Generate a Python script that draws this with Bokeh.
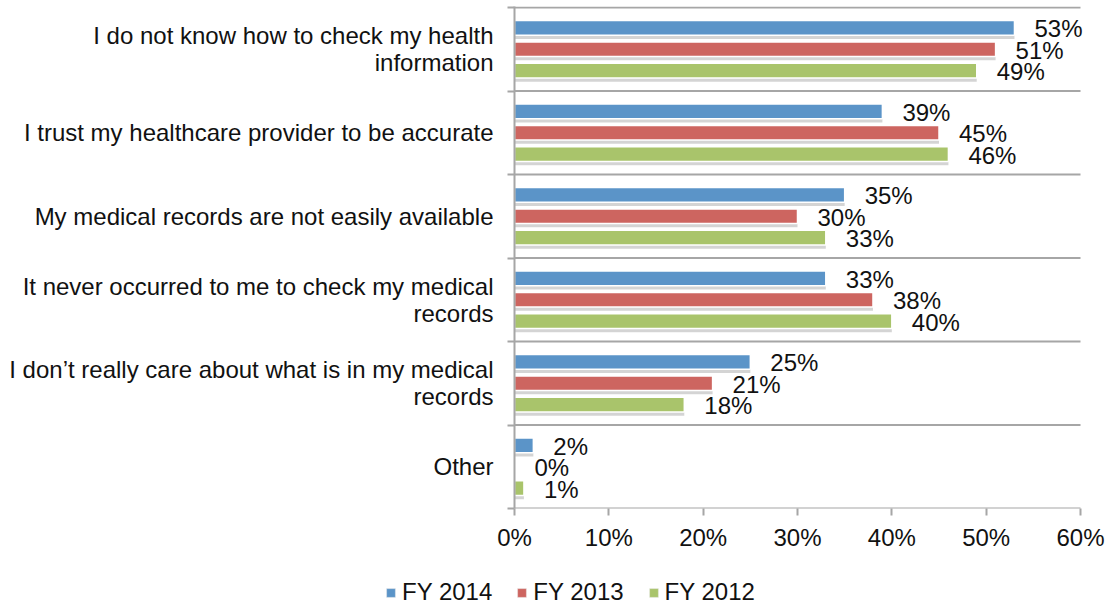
from bokeh.plotting import figure
from bokeh.layouts import column, row
from bokeh.models import (ColumnDataSource, FixedTicker, PrintfTickFormatter, Legend,
                          LegendItem, Range1d, LabelSet)
from bokeh.transform import dodge
from bokeh.core.properties import value
from bokeh.embed import file_html
from bokeh.resources import INLINE

categories = [
    "I do not know how to check my health\ninformation",
    "I trust my healthcare provider to be accurate",
    "My medical records are not easily available",
    "It never occurred to me to check my medical\nrecords",
    "I don\u2019t really care about what is in my medical\nrecords",
    "Other",
]
series_names = ["FY 2014", "FY 2013", "FY 2012"]
fy2014 = [53, 39, 35, 33, 25, 2]
fy2013 = [51, 45, 30, 38, 21, 0]
fy2012 = [49, 46, 33, 40, 18, 1]
x_ticks = [0, 10, 20, 30, 40, 50, 60]

colors = ["#5B94C8", "#CD6560", "#A9C46B"]
offsets = [0.256, 0.0, -0.256]
FONT = "Liberation Sans"
FS = "24px"
GRAY = "#A6A6A6"
TXT = "#111111"

n = len(categories)
centers = [n - 0.5 - i for i in range(n)]
seps = list(range(n + 1))

# frame: 0..60% spans 566px; extra room on the right for value labels
plot_px = 566
frame_w = 586
x_end = x_ticks[-1] * frame_w / plot_px

p = figure(frame_width=frame_w, frame_height=502,
           min_border_left=514, min_border_right=10, min_border_top=6, min_border_bottom=60,
           x_range=Range1d(0, x_end), y_range=Range1d(0, n + 0.012),
           output_backend="svg", toolbar_location=None)
p.outline_line_color = None
p.background_fill_color = "white"
p.border_fill_color = "white"
p.xgrid.visible = False
p.ygrid.visible = False

# category separators (from 0% to 60%)
p.segment(x0=[x_ticks[0]] * len(seps), x1=[x_ticks[-1]] * len(seps), y0=seps, y1=seps,
          line_color=GRAY, line_width=2)

for vals, col, off, name in zip([fy2014, fy2013, fy2012], colors, offsets, series_names):
    src = ColumnDataSource(dict(
        y=[c + off for c in centers],
        v=vals,
        label=[f"{v}%" for v in vals],
    ))
    p.hbar(y=dodge("y", -0.04, range=p.y_range), left=0, right="v", height=0.185,
           source=src, fill_color="#000000", fill_alpha=0.17, line_color=None)
    p.hbar(y="y", left=0, right="v", height=0.175, source=src,
           fill_color=col, line_color="white", line_width=1.5)
    labels = LabelSet(x="v", y="y", text="label", source=src, x_offset=20, y_offset=-1,
                      text_baseline="middle", text_align="left",
                      text_font=value(FONT), text_font_size=FS, text_color=TXT)
    p.add_layout(labels)

# y axis
p.yaxis.ticker = FixedTicker(ticks=centers, minor_ticks=seps)
p.yaxis.major_label_overrides = {c: cat for c, cat in zip(centers, categories)}
p.yaxis.major_tick_line_color = None
p.yaxis.minor_tick_line_color = GRAY
p.yaxis.minor_tick_line_width = 2
p.yaxis.minor_tick_in = 0
p.yaxis.minor_tick_out = 7
p.yaxis.axis_line_color = GRAY
p.yaxis.axis_line_width = 2
p.yaxis.major_label_standoff = 14
p.yaxis.major_label_text_font = FONT
p.yaxis.major_label_text_font_size = FS
p.yaxis.major_label_text_color = TXT
p.yaxis.major_label_text_line_height = 1.0

# x axis
p.xaxis.ticker = FixedTicker(ticks=x_ticks, minor_ticks=[])
p.xaxis.formatter = PrintfTickFormatter(format="%d%%")
p.xaxis.major_tick_line_color = GRAY
p.xaxis.major_tick_line_width = 2
p.xaxis.major_tick_in = 0
p.xaxis.major_tick_out = 7
p.xaxis.axis_line_color = None
p.xaxis.major_label_standoff = 8
p.xaxis.major_label_text_font = FONT
p.xaxis.major_label_text_font_size = FS
p.xaxis.major_label_text_color = TXT

# legend strip below the chart (proxy glyphs lie outside the visible range)
leg_h = 39
lp = figure(width=1110, height=leg_h, x_range=Range1d(0, 1110), y_range=Range1d(0, leg_h),
            min_border=0, x_axis_type=None, y_axis_type=None,
            output_backend="svg", toolbar_location=None)
lp.outline_line_color = None
lp.xgrid.visible = False
lp.ygrid.visible = False
items = []
for col, name in zip(colors, series_names):
    r = lp.hbar(y=[-100], left=[0], right=[1], height=1, fill_color=col,
                line_color="#E8E8E8", line_width=0.5)
    items.append(LegendItem(label=name, renderers=[r]))
legend = Legend(items=items, orientation="horizontal", location=(385, 1),
                glyph_width=11, glyph_height=11, label_standoff=6, spacing=24,
                label_height=24, padding=0, margin=0, border_line_color=None,
                background_fill_alpha=0,
                label_text_font=FONT, label_text_font_size=FS, label_text_color=TXT)
lp.add_layout(legend, "center")

layout = column(p, row(lp), spacing=0)
open("out.html", "w").write(file_html(layout, INLINE))
